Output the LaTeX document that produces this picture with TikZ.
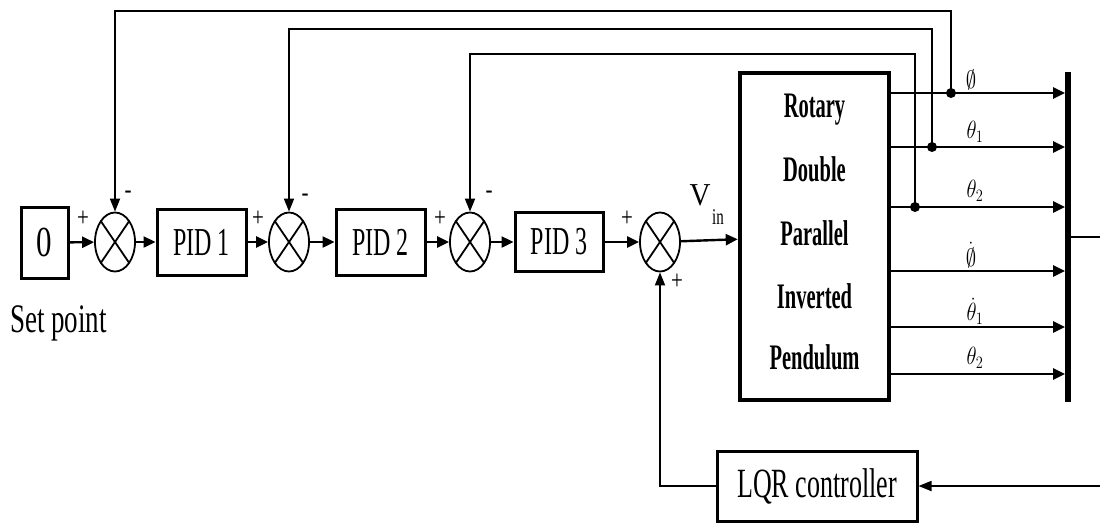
\documentclass[tikz,border=0pt]{standalone}
\usepackage{fontspec}
\setmainfont{Liberation Serif}
\usetikzlibrary{arrows.meta,shapes.geometric}
\newcommand{\vs}[2]{\scalebox{1}[#1]{#2}}
\newcommand{\fs}[1]{\fontsize{#1}{#1}\selectfont}
\begin{document}
\begin{tikzpicture}[x=1pt,y=-1pt,
  blk/.style={draw,line width=3pt,rectangle,inner sep=0pt},
  sumn/.style={draw,line width=1.8pt,ellipse,minimum width=40pt,minimum height=59pt,inner sep=0pt,
    path picture={\draw[line width=1.8pt] (path picture bounding box.north west)--(path picture bounding box.south east)
      (path picture bounding box.north east)--(path picture bounding box.south west);}},
  sig/.style={line width=2.4pt,-{Triangle[length=12pt,width=11pt]}},
  fb/.style={line width=1.8pt,-{Triangle[length=13pt,width=10pt]}},
  sgn/.style={inner sep=0pt,font=\fs{21}},
  dotn/.style={circle,fill,inner sep=0pt,minimum size=10pt},
  olab/.style={inner sep=0pt,font=\fs{20}},
  ptxt/.style={inner sep=0pt,anchor=base,font=\fs{20.5}\bfseries},
]
\useasboundingbox (0,0) rectangle (1100,523);
% blocks
\node[blk,minimum width=47pt,minimum height=71pt] (z) at (44.5,242.5) {\vs{1.38}{\fs{31}0}};
\node[sumn] (s1) at (115,242) {};
\node[blk,minimum width=89pt,minimum height=66pt] (p1) at (201.5,242) {\raisebox{-3pt}{\vs{1.65}{\fs{24}PID 1}}};
\node[sumn] (s2) at (289,242) {};
\node[blk,minimum width=89pt,minimum height=66pt] (p2) at (380.5,242) {\raisebox{-3pt}{\vs{1.65}{\fs{24}PID 2}}};
\node[sumn] (s3) at (470,242) {};
\node[blk,minimum width=88pt,minimum height=59pt] (p3) at (559,242) {\raisebox{-2pt}{\vs{1.65}{\fs{24}PID 3}}};
\node[sumn] (s4) at (660,242) {};
\node[blk,line width=4.5pt,minimum width=149pt,minimum height=327pt] (pl) at (814.5,236.5) {};
\node[ptxt] (t1) at (814.5,117) {\vs{1.75}{Rotary}};
\node[ptxt] (t2) at (814.5,181) {\vs{1.75}{Double}};
\node[ptxt] (t3) at (814.5,245) {\vs{1.75}{Parallel}};
\node[ptxt] (t4) at (814.5,308) {\vs{1.75}{Inverted}};
\node[ptxt] (t5) at (814.5,369) {\vs{1.75}{Pendulum}};
\node[fill,inner sep=0pt,minimum width=5.5pt,minimum height=330pt] (bus) at (1068,237) {};
\node[blk,minimum width=200pt,minimum height=70pt] (lqr) at (817,486) {\raisebox{-2pt}{\vs{1.6}{\fs{26}LQR controller}}};
\node[inner sep=0pt,anchor=base west] (sp) at (10,332) {\vs{1.5}{\fs{27}Set point}};
% signs
\node[sgn] (pa) at (83,219) {\vs{1.3}{+}};
\node[sgn] (pb) at (258,219) {\vs{1.3}{+}};
\node[sgn] (pc) at (440,219) {\vs{1.3}{+}};
\node[sgn] (pd) at (627,219) {\vs{1.3}{+}};
\node[sgn] (pe) at (677,282) {\vs{1.3}{+}};
\node[sgn] (ma) at (128,195) {\vs{1.3}{-}};
\node[sgn] (mb) at (305,198) {\vs{1.3}{-}};
\node[sgn] (mc) at (489,195) {\vs{1.3}{-}};
\node[inner sep=0pt,anchor=base] (vv) at (700,205) {\vs{1.1}{\fs{29}V}};
\node[inner sep=0pt,anchor=base] (vi) at (718,224) {\vs{1.5}{\fs{15}in}};
% main chain
\draw[sig] (z) -- (s1);
\draw[sig] (s1) -- (p1);
\draw[sig] (p1) -- (s2);
\draw[sig] (s2) -- (p2);
\draw[sig] (p2) -- (s3);
\draw[sig] (s3) -- (p3);
\draw[sig] (p3) -- (s4);
\draw[sig] (s4) -- (pl);
% outputs
\coordinate (o1) at (900,93);
\coordinate (o2) at (900,147);
\coordinate (o3) at (900,207);
\coordinate (o4) at (900,271);
\coordinate (o5) at (900,327);
\coordinate (o6) at (900,374);
\foreach \o in {o1,o2,o3,o4,o5,o6} {\draw[sig] (pl.east |- \o) -- (bus.west |- \o);}
\node[dotn] (d1) at (951,93) {};
\node[dotn] (d2) at (932,147) {};
\node[dotn] (d3) at (915,207) {};
\node[olab] (l1) at (971,80) {\vs{1.2}{$\emptyset$}};
\node[olab] (l2) at (975,132) {\vs{1.2}{$\theta_1$}};
\node[olab] (l3) at (975,191) {\vs{1.2}{$\theta_2$}};
\node[olab] (l4) at (971,255) {\vs{1.2}{$\dot{\emptyset}$}};
\node[olab] (l5) at (975,311) {\vs{1.2}{$\dot{\theta}_1$}};
\node[olab] (l6) at (975,358) {\vs{1.2}{$\theta_2$}};
% feedback
\coordinate (k1) at (951,11);
\coordinate (k2) at (932,29);
\coordinate (k3) at (915,54);
\draw[fb] (d1.center) -- (k1) -| (s1.north);
\draw[fb] (d2.center) -- (k2) -| (s2.north);
\draw[fb] (d3.center) -- (k3) -| (s3.north);
% bus output and LQR loop
\coordinate (bo) at (1100,237);
\draw[line width=1.8pt] (bus.east |- bo) -- (bo);
\coordinate (r) at (1100,486);
\draw[fb] (r) -- (lqr.east);
\draw[fb] (lqr.west) -| (s4.south);
\end{tikzpicture}
\end{document}
